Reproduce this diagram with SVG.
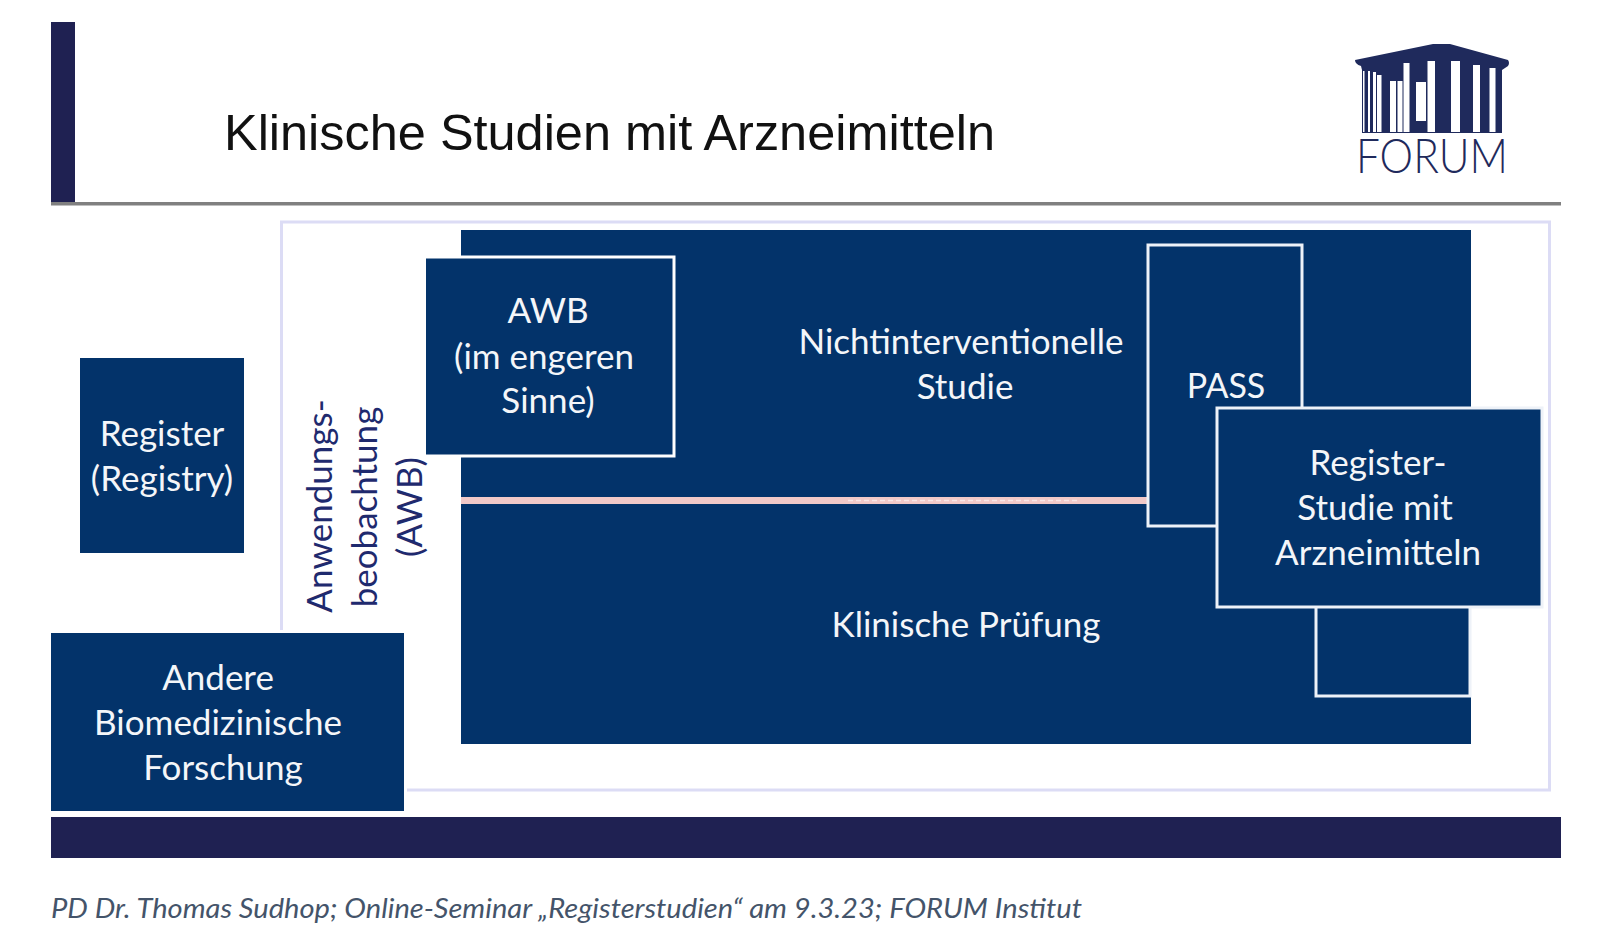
<svg xmlns="http://www.w3.org/2000/svg" width="1600" height="949" viewBox="0 0 1600 949">
<style>
.b{fill:#03336a}
.w{stroke:#eef2f8;stroke-width:3}
.n{stroke:#fff;stroke-width:3}
.t{font-family:"Lato","Liberation Sans",sans-serif;font-size:35px;fill:#f4f6f9;text-anchor:middle}
.v{font-family:"Lato","Liberation Sans",sans-serif;font-size:35px;fill:#1f2a6e;text-anchor:middle}
.d{fill:#1f2152}
</style>
<rect width="1600" height="949" fill="#fff"/>
<g id="header">
<rect class="d" x="51" y="22" width="24" height="183"/>
<rect x="51" y="202" width="1510" height="3.500" fill="#808080"/>
<text x="224" y="150" font-family="Liberation Sans, Arial, sans-serif" font-size="50" fill="#111" textLength="771" lengthAdjust="spacingAndGlyphs">Klinische Studien mit Arzneimitteln</text>
</g>
<g id="logo">
<path d="M1355 60Q1355 64 1361 66L1362 70V133H1502V70L1508 66Q1510 63 1508 60L1450 44H1433Z" fill="#1f2a5c"/>
<g fill="#fff">
<rect x="1363" y="71" width="1.500" height="61"/><rect x="1368" y="71" width="2" height="61"/><rect x="1373" y="72" width="3" height="60"/>
<rect x="1377" y="75" width="4.500" height="57"/><rect x="1390" y="81" width="6" height="51"/><rect x="1397.500" y="81" width="5" height="51"/>
<rect x="1403.500" y="63" width="6" height="69"/><rect x="1416" y="82" width="10" height="39"/><rect x="1427.500" y="61" width="7.500" height="71"/>
<rect x="1451" y="61" width="9" height="71"/><rect x="1473" y="65" width="7" height="67"/><rect x="1489.500" y="68" width="6" height="64"/>
</g>
<text x="1356" y="172.500" font-family="Lato, sans-serif" font-weight="300" font-size="48" fill="#1f2a5c" textLength="152" lengthAdjust="spacingAndGlyphs">FORUM</text>
</g>
<g id="frame"><rect x="281.500" y="222" width="1268" height="568" fill="none" stroke="#dcdcf5" stroke-width="3"/></g>
<g id="nichtinterventionelle-studie">
<rect class="b" x="461" y="230" width="1010" height="268"/>
<text class="t" x="961" y="354">Nichtinterventionelle</text>
<text class="t" x="965" y="399">Studie</text>
</g>
<g id="klinische-pruefung">
<rect class="b" x="461" y="504" width="1010" height="240"/>
<text class="t" x="966" y="637">Klinische Prüfung</text>
</g>
<g id="trennlinie">
<rect x="461" y="497" width="687" height="7" fill="#f1c9c8"/>
<path d="M848 500.500H1080" stroke="#f8e6e6" stroke-width="1.500" stroke-dasharray="5 3"/>
</g>
<g id="awb">
<rect class="b n" x="424.500" y="257" width="249.500" height="199"/>
<text class="t" x="548" y="323">AWB</text>
<text class="t" x="544" y="369">(im engeren</text>
<text class="t" x="548" y="413">Sinne)</text>
</g>
<g id="pass">
<rect class="b w" x="1148" y="245" width="154" height="281"/>
<text class="t" x="1226" y="398" style="font-size:34px">PASS</text>
</g>
<g id="klinische-pruefung-eck">
<rect class="b w" x="1316" y="590" width="154" height="106"/>
</g>
<g id="registerstudie">
<rect class="b w" x="1217" y="408" width="325" height="199"/>
<text class="t" x="1378" y="475">Register-</text>
<text class="t" x="1375" y="520">Studie mit</text>
<text class="t" x="1378" y="565">Arzneimitteln</text>
</g>
<g id="register">
<rect class="b" x="80" y="358" width="164" height="195"/>
<text class="t" x="162" y="446">Register</text>
<text class="t" x="162" y="491">(Registry)</text>
</g>
<g id="andere">
<rect x="48" y="630" width="359" height="184" fill="#fff"/>
<rect class="b" x="51" y="633" width="353" height="178"/>
<text class="t" x="218" y="690">Andere</text>
<text class="t" x="218" y="735">Biomedizinische</text>
<text class="t" x="223" y="780">Forschung</text>
</g>
<g id="anwendungsbeobachtung">
<text class="v" transform="translate(332 506) rotate(-90)">Anwendungs-</text>
<text class="v" transform="translate(377 507) rotate(-90)">beobachtung</text>
<text class="v" transform="translate(422 507) rotate(-90)">(AWB)</text>
</g>
<g id="footer">
<rect class="d" x="51" y="817" width="1510" height="41"/>
<text x="51" y="918" font-family="Lato, sans-serif" font-style="italic" font-size="27" fill="#44546a" textLength="1031" lengthAdjust="spacingAndGlyphs">PD Dr. Thomas Sudhop; Online-Seminar „Registerstudien“ am 9.3.23; FORUM Institut</text>
</g>
</svg>
